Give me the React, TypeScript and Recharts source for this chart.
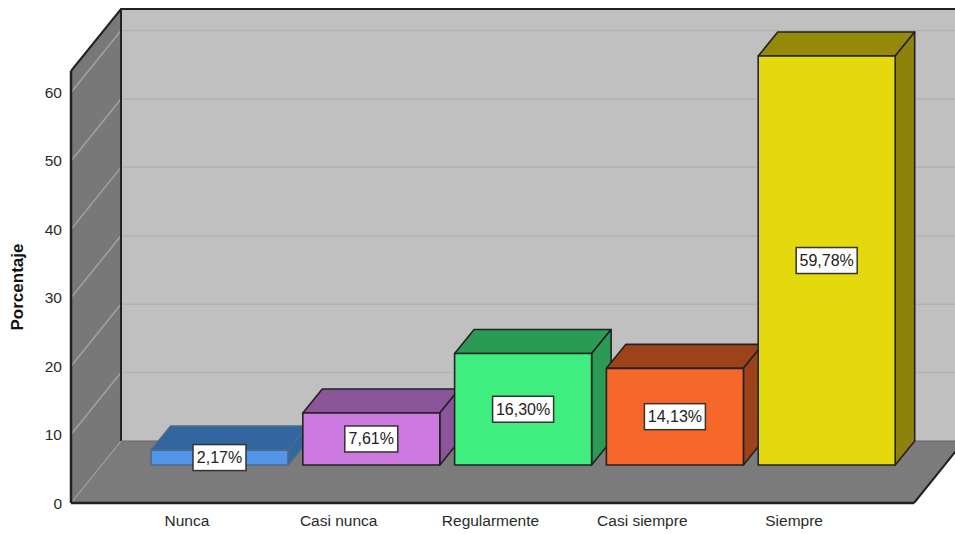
import React from "react";
import {
  BarChart,
  Bar,
  XAxis,
  YAxis,
  LabelList,
  ReferenceArea,
} from "recharts";

const categories = ["Nunca", "Casi nunca", "Regularmente", "Casi siempre", "Siempre"];
const percentages = [2.17, 7.61, 16.3, 14.13, 59.78];
const yTicks = [0, 10, 20, 30, 40, 50, 60];
const frontColors = ["#5294e8", "#cc7ae0", "#40ee80", "#f5682a", "#e3d90d"];
const topColors = ["#33669e", "#8a5599", "#2a9a55", "#9e421c", "#95890a"];
const sideColors = ["#33669e", "#8a5599", "#2a9a55", "#9e421c", "#8d830c"];
const edgeColors = ["#4a6a8c", "#222222", "#222222", "#222222", "#222222"];

const data = categories.map((name, i) => ({ name, value: percentages[i] }));

// Inner padding of the category axis; the chart box spans the full plot width.
const PAD_LEFT = 40;
const PAD_RIGHT = 44;
const Y_MAX = 63.15;

// Oblique projection of the chart box and of each bar inside it.
const WALL_DX = 50;
const WALL_DY = 62;
const BAR_SHIFT_X = 33;
const BAR_SHIFT_Y = 38;
const BAR_DX = 19.5;
const BAR_DY = 24;

const pts = (list: number[][]) => list.map((p) => p.join(",")).join(" ");

function Walls(props: any) {
  const { y, height } = props;
  const x = props.x - PAD_LEFT;
  const right = props.x + props.width + PAD_RIGHT;
  const bottom = y + height;
  return (
    <g>
      <polygon
        points={pts([
          [x + WALL_DX, y - WALL_DY],
          [right + WALL_DX, y - WALL_DY],
          [right + WALL_DX, bottom - WALL_DY],
          [x + WALL_DX, bottom - WALL_DY],
        ])}
        fill="#c0c0c0"
      />
      <polygon
        points={pts([
          [x, bottom],
          [x + WALL_DX, bottom - WALL_DY],
          [right + WALL_DX, bottom - WALL_DY],
          [right, bottom],
        ])}
        fill="#7b7b7b"
      />
      <polygon
        points={pts([
          [x, y],
          [x + WALL_DX, y - WALL_DY],
          [x + WALL_DX, bottom - WALL_DY],
          [x, bottom],
        ])}
        fill="#787878"
      />
    </g>
  );
}

function WallEdges(props: any) {
  const { y, height } = props;
  const x = props.x - PAD_LEFT;
  const right = props.x + props.width + PAD_RIGHT;
  const bottom = y + height;
  const edge = { stroke: "#222222", strokeWidth: 2, fill: "none" };
  return (
    <g>
      <polyline
        points={pts([
          [x, y],
          [x + WALL_DX, y - WALL_DY],
          [right + WALL_DX, y - WALL_DY],
        ])}
        {...edge}
      />
      <line
        x1={x + WALL_DX}
        y1={y - WALL_DY}
        x2={x + WALL_DX}
        y2={bottom - WALL_DY}
        {...edge}
      />
      <line x1={right} y1={bottom} x2={right + WALL_DX} y2={bottom - WALL_DY} {...edge} />
      <line
        x1={x + WALL_DX}
        y1={bottom - WALL_DY}
        x2={right + WALL_DX}
        y2={bottom - WALL_DY}
        stroke="#666666"
        strokeWidth={1}
      />
      <line
        x1={x}
        y1={bottom}
        x2={x + WALL_DX}
        y2={bottom - WALL_DY}
        stroke="#a8a8a8"
        strokeWidth={1}
      />
    </g>
  );
}

// A gridline at the top of its band: across the back wall, folding down the side wall.
function GridFold(props: any) {
  const { y } = props;
  const x = props.x - PAD_LEFT;
  const right = props.x + props.width + PAD_RIGHT;
  return (
    <g>
      <line
        x1={x + WALL_DX}
        y1={y - WALL_DY}
        x2={right + WALL_DX}
        y2={y - WALL_DY}
        stroke="#b2b2b2"
        strokeWidth={1.5}
      />
      <line x1={x} y1={y} x2={x + WALL_DX} y2={y - WALL_DY} stroke="#a2a2a2" strokeWidth={1.5} />
    </g>
  );
}

function Box3D(props: any) {
  const { x, y, width, height, index } = props;
  const left = x + BAR_SHIFT_X;
  const right = left + width;
  const top = y - BAR_SHIFT_Y;
  const bottom = top + height;
  const edge = {
    stroke: edgeColors[index],
    strokeWidth: 1.6,
    strokeLinejoin: "round" as const,
  };
  return (
    <g>
      <polygon
        points={pts([
          [left, top],
          [left + BAR_DX, top - BAR_DY],
          [right + BAR_DX, top - BAR_DY],
          [right, top],
        ])}
        fill={topColors[index]}
        {...edge}
      />
      <polygon
        points={pts([
          [right, top],
          [right + BAR_DX, top - BAR_DY],
          [right + BAR_DX, bottom - BAR_DY],
          [right, bottom],
        ])}
        fill={sideColors[index]}
        {...edge}
      />
      <rect x={left} y={top} width={width} height={height} fill={frontColors[index]} {...edge} />
    </g>
  );
}

function ValueTag(props: any) {
  const { x, y, width, height, value } = props;
  const text = `${Number(value).toFixed(2).replace(".", ",")}%`;
  const cx = x + width / 2 + BAR_SHIFT_X;
  const cy = y + height / 2 - BAR_SHIFT_Y;
  const w = text.length * 8 + 13;
  const h = 26;
  return (
    <g>
      <rect
        x={cx - w / 2}
        y={cy - h / 2}
        width={w}
        height={h}
        fill="#ffffff"
        stroke="#333333"
        strokeWidth={1.5}
      />
      <text
        x={cx}
        y={cy + 5.5}
        textAnchor="middle"
        fontFamily="'Liberation Sans', Arial, sans-serif"
        fontSize={16}
        fill="#222222"
      >
        {text}
      </text>
    </g>
  );
}

const tickStyle = {
  fontFamily: "'Liberation Sans', Arial, sans-serif",
  fontSize: 15.5,
  fill: "#2a2a2a",
};

export default function App() {
  return (
    <div style={{ position: "absolute", left: 0, top: 0, width: 955, height: 534, overflow: "hidden" }}>
      <BarChart
        width={955}
        height={534}
        data={data}
        margin={{ top: 71, right: 41, bottom: 0, left: 0 }}
        barSize={137}
      >
        <ReferenceArea y1={0} y2={Y_MAX} shape={<Walls />} ifOverflow="visible" />
        {yTicks.slice(1).map((v, i) => (
          <ReferenceArea
            key={v}
            y1={yTicks[i]}
            y2={v}
            shape={<GridFold />}
            ifOverflow="visible"
          />
        ))}
        <ReferenceArea y1={0} y2={Y_MAX} shape={<WallEdges />} ifOverflow="visible" />
        <XAxis
          dataKey="name"
          height={31}
          padding={{ left: PAD_LEFT, right: PAD_RIGHT }}
          axisLine={{ stroke: "#222222", strokeWidth: 2.5 }}
          tickLine={false}
          tick={{ ...tickStyle, dy: 1 }}
          tickMargin={5}
          interval={0}
        />
        <YAxis
          width={71}
          domain={[0, Y_MAX]}
          ticks={yTicks}
          interval={0}
          axisLine={{ stroke: "#222222", strokeWidth: 2.5 }}
          tickLine={false}
          tick={tickStyle}
          tickMargin={3}
          label={{
            value: "Porcentaje",
            angle: -90,
            position: "insideLeft",
            offset: 17,
            style: {
              fontFamily: "'Liberation Sans', Arial, sans-serif",
              fontSize: 17,
              fontWeight: 700,
              fill: "#111111",
              textAnchor: "middle",
            },
          }}
        />
        <Bar dataKey="value" shape={<Box3D />} isAnimationActive={false}>
          <LabelList dataKey="value" content={<ValueTag />} />
        </Bar>
      </BarChart>
    </div>
  );
}
